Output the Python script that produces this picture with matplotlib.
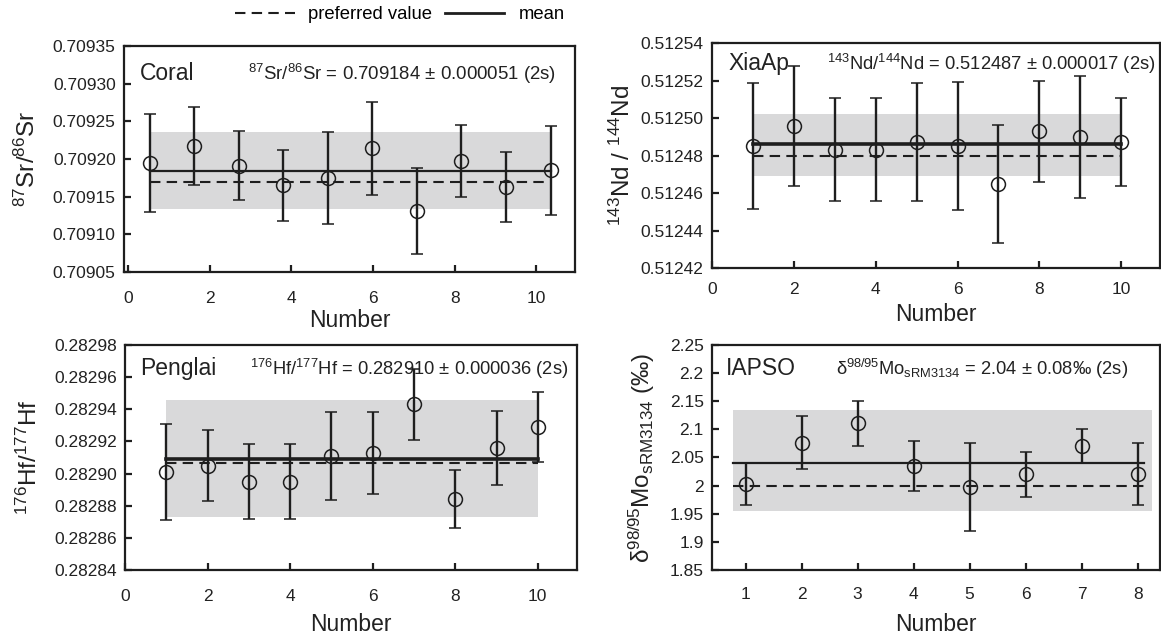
import numpy as np
import matplotlib
matplotlib.use("Agg")
import matplotlib.pyplot as plt
from matplotlib.lines import Line2D
from matplotlib.ticker import FormatStrFormatter

plt.rcParams['font.family'] = ['Liberation Sans', 'DejaVu Sans']
plt.rcParams['mathtext.fontset'] = 'custom'
plt.rcParams['mathtext.rm'] = 'Liberation Sans'
plt.rcParams['mathtext.it'] = 'Liberation Sans:italic'
plt.rcParams['mathtext.bf'] = 'Liberation Sans:bold'

# Coral, 87Sr/86Sr
sr_x = [0.53, 1.62, 2.71, 3.80, 4.89, 5.98, 7.07, 8.16, 9.26, 10.35]
sr_y = [0.709195, 0.709217, 0.709191, 0.709165, 0.709175,
        0.709214, 0.709131, 0.709197, 0.709163, 0.709185]
sr_err = [0.000065, 0.000052, 0.000046, 0.000047, 0.000061,
          0.000062, 0.000057, 0.000048, 0.000046, 0.000059]
sr_mean = 0.709184
sr_pref = 0.709170
sr_band = (0.709134, 0.709236)

# XiaAp, 143Nd/144Nd
nd_x = [1, 2, 3, 4, 5, 6, 7, 8, 9, 10]
nd_y = [0.512485, 0.512496, 0.512483, 0.512483, 0.512487,
        0.512485, 0.512465, 0.512493, 0.512490, 0.512487]
nd_err = [0.0000335, 0.000032, 0.0000275, 0.0000275, 0.0000315,
          0.000034, 0.0000315, 0.000027, 0.0000325, 0.0000235]
nd_mean = 0.512486
nd_pref = 0.512480
nd_band = (0.512469, 0.512502)

# Penglai, 176Hf/177Hf
hf_x = [1, 2, 3, 4, 5, 6, 7, 8, 9, 10]
hf_y = [0.282901, 0.282905, 0.282895, 0.282895, 0.282911,
        0.2829125, 0.282943, 0.282884, 0.282916, 0.282929]
hf_err = [0.000030, 0.000022, 0.0000235, 0.0000235, 0.0000275,
          0.0000255, 0.000022, 0.000018, 0.000023, 0.000022]
hf_mean = 0.282909
hf_pref = 0.2829065
hf_band = (0.282873, 0.282946)

# IAPSO, d98/95Mo
mo_x = [1, 2, 3, 4, 5, 6, 7, 8]
mo_y = [2.003, 2.076, 2.111, 2.035, 1.997, 2.020, 2.071, 2.020]
mo_err = [0.037, 0.047, 0.040, 0.044, 0.078, 0.040, 0.030, 0.055]
mo_mean = 2.04
mo_pref = 2.00
mo_band = (1.955, 2.135)

INK = '#1e1e1e'
TXT = '#222222'


def draw_panel(ax, x, y, err, mean, pref, band, band_span, mean_span,
               pref_span, mean_lw, xpad, xlabpad):
    ax.fill_between(band_span, band[0], band[1], color='#d9d9da',
                    lw=0, zorder=1)
    ax.plot(mean_span, [mean, mean], color=INK, lw=mean_lw, zorder=3)
    ax.plot(pref_span, [pref, pref], color=INK, lw=1.5,
            dashes=(5, 3), zorder=3)
    ax.errorbar(x, y, yerr=err, fmt='o', ms=10, mfc='none', mec=INK,
                mew=1.1, ecolor=INK, elinewidth=1.7, capsize=4,
                capthick=1.7, zorder=4)
    for s in ax.spines.values():
        s.set_linewidth(1.6)
        s.set_color(INK)
    ax.tick_params(direction='in', length=5, width=1.6, colors=INK,
                   labelsize=12.5, labelcolor=TXT, pad=6)
    ax.tick_params(axis='x', pad=xpad)
    ax.set_xlabel('Number', fontsize=16.5, color=TXT, labelpad=xlabpad)


fig = plt.figure(figsize=(11.61, 6.38), dpi=100)

ax1 = fig.add_axes([0.1068, 0.5737, 0.3885, 0.3542])
ax2 = fig.add_axes([0.6133, 0.5799, 0.3859, 0.3527])
ax3 = fig.add_axes([0.1077, 0.1066, 0.3893, 0.3527])
ax4 = fig.add_axes([0.6133, 0.1066, 0.3859, 0.3527])

# panel 1
draw_panel(ax1, sr_x, sr_y, sr_err, sr_mean, sr_pref, sr_band,
           [sr_x[0], sr_x[-1]], [sr_x[0], sr_x[-1]], [sr_x[0], sr_x[-1]],
           1.6, 13.5, 2.7)
ax1.set_xlim(-0.1, 10.95)
ax1.set_ylim(0.70905, 0.70935)
ax1.set_xticks([0, 2, 4, 6, 8, 10])
ax1.set_yticks(np.linspace(0.70905, 0.70935, 7))
ax1.yaxis.set_major_formatter(FormatStrFormatter('%.5f'))
ax1.set_ylabel(r'$^{87}$Sr/$^{86}$Sr', fontsize=17.5, color=TXT, labelpad=9)
ax1.text(0.035, 0.85, 'Coral', transform=ax1.transAxes, fontsize=16.5,
         va='baseline', color=TXT)
ax1.text(0.958, 0.85,
         r'$^{87}$Sr/$^{86}$Sr = 0.709184 ± 0.000051 (2s)',
         transform=ax1.transAxes, fontsize=13.4, ha='right', va='baseline',
         color=TXT)

# panel 2
draw_panel(ax2, nd_x, nd_y, nd_err, nd_mean, nd_pref, nd_band,
           [1, 10], [1, 10], [1, 10], 2.6, 10, 4.5)
ax2.set_xlim(0, 10.95)
ax2.set_ylim(0.51242, 0.51254)
ax2.set_xticks([0, 2, 4, 6, 8, 10])
ax2.set_yticks(np.linspace(0.51242, 0.51254, 7))
ax2.yaxis.set_major_formatter(FormatStrFormatter('%.5f'))
ax2.set_ylabel(r'$^{143}$Nd / $^{144}$Nd', fontsize=17.5, color=TXT,
               labelpad=4.5)
ax2.text(0.036, 0.88, 'XiaAp', transform=ax2.transAxes, fontsize=16.5,
         va='baseline', color=TXT)
ax2.text(0.99, 0.88,
         r'$^{143}$Nd/$^{144}$Nd = 0.512487 ± 0.000017 (2s)',
         transform=ax2.transAxes, fontsize=13.2, ha='right', va='baseline',
         color=TXT)

# panel 3
draw_panel(ax3, hf_x, hf_y, hf_err, hf_mean, hf_pref, hf_band,
           [1, 10], [1, 10], [1, 10], 2.6, 13.5, 7)
ax3.set_xlim(0, 10.95)
ax3.set_ylim(0.28284, 0.28298)
ax3.set_xticks([0, 2, 4, 6, 8, 10])
ax3.set_yticks(np.linspace(0.28284, 0.28298, 8))
ax3.yaxis.set_major_formatter(FormatStrFormatter('%.5f'))
ax3.set_ylabel(r'$^{176}$Hf/$^{177}$Hf', fontsize=17.5, color=TXT,
               labelpad=9)
ax3.text(0.033, 0.867, 'Penglai', transform=ax3.transAxes, fontsize=16.5,
         va='baseline', color=TXT)
ax3.text(0.98, 0.867,
         r'$^{176}$Hf/$^{177}$Hf = 0.282910 ± 0.000036 (2s)',
         transform=ax3.transAxes, fontsize=13.2, ha='right', va='baseline',
         color=TXT)

# panel 4
draw_panel(ax4, mo_x, mo_y, mo_err, mo_mean, mo_pref, mo_band,
           [0.77, 8.25], [0.77, 8.11], [0.77, 8.18], 1.6, 12, 8)
ax4.set_xlim(0.4, 8.4)
ax4.set_ylim(1.85, 2.25)
ax4.set_xticks(mo_x)
ax4.set_yticks(np.linspace(1.85, 2.25, 9))
ax4.yaxis.set_major_formatter(FormatStrFormatter('%g'))
ax4.set_ylabel(r'δ$^{98/95}$Mo$_{\mathrm{sRM3134}}$ (‰)', fontsize=17.5,
               color=TXT, labelpad=9)
ax4.text(0.03, 0.867, 'IAPSO', transform=ax4.transAxes, fontsize=16.5,
         va='baseline', color=TXT)
ax4.text(0.93, 0.867,
         r'δ$^{98/95}$Mo$_{\mathrm{sRM3134}}$ = 2.04 ± 0.08‰ (2s)',
         transform=ax4.transAxes, fontsize=13.2, ha='right', va='baseline',
         color=TXT)

handles = [Line2D([], [], color=INK, lw=1.5, dashes=(5, 3)),
           Line2D([], [], color=INK, lw=2)]
fig.legend(handles, ['preferred value', 'mean'], loc='center',
           bbox_to_anchor=(0.3445, 0.977), ncol=2, frameon=False,
           fontsize=13.3, handlelength=3.2, handletextpad=0.75,
           columnspacing=0.7, borderpad=0.2)

fig.savefig('out.png', dpi=100)
